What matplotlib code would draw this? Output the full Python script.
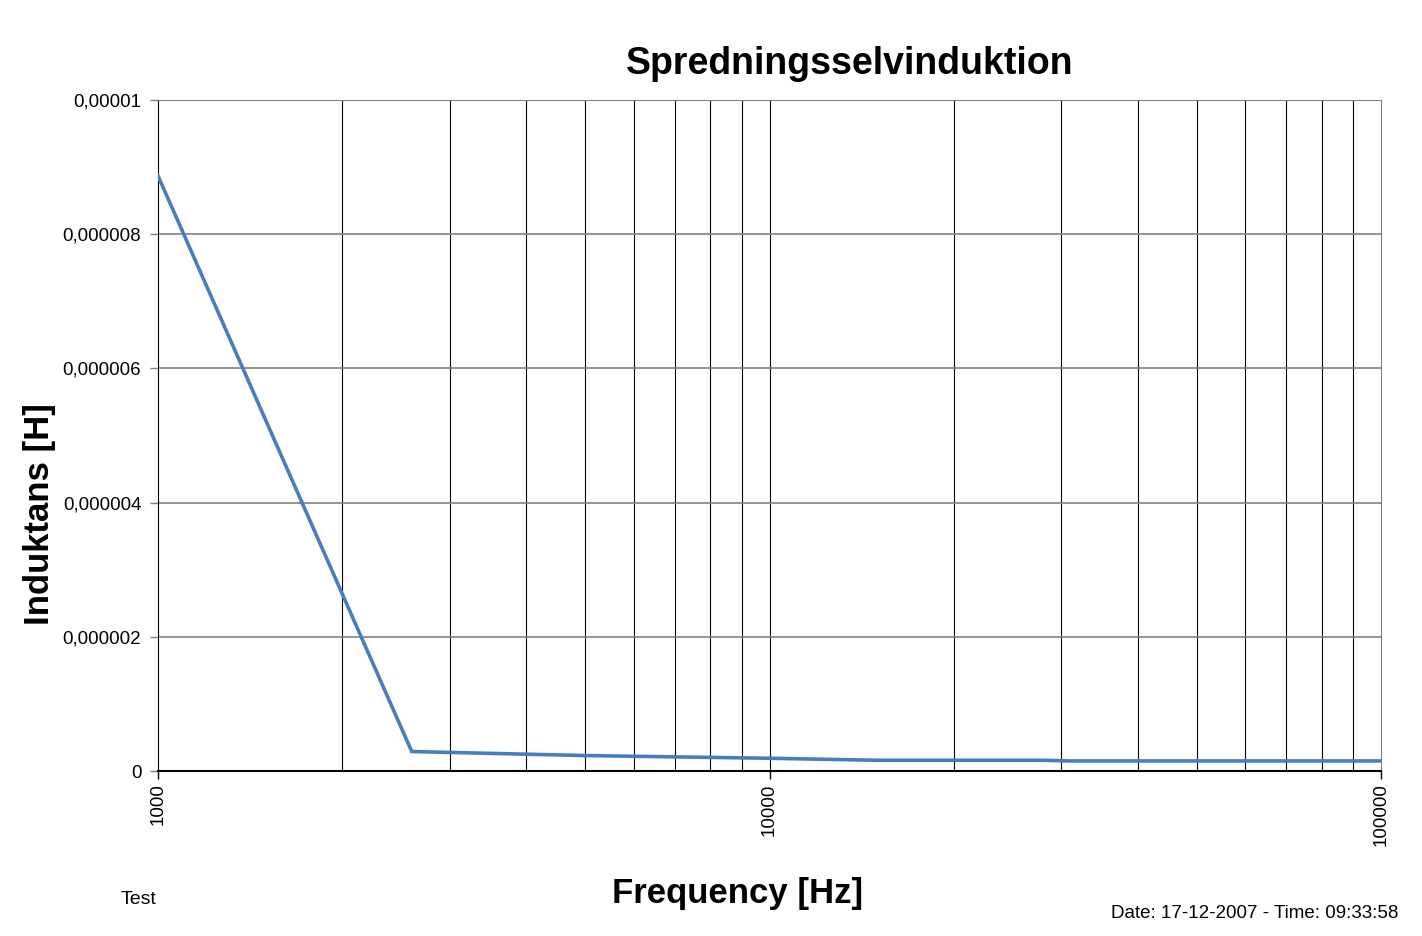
import matplotlib
matplotlib.use('Agg')
import matplotlib.pyplot as plt
from matplotlib.ticker import FixedLocator, FuncFormatter, NullFormatter

plt.rcParams['font.family'] = ['Liberation Sans', 'DejaVu Sans']

# data
freq = [1000, 2600, 5000, 10000, 15000, 28000, 31000, 100000]
induktans = [8.87e-6, 0.29e-6, 0.23e-6, 0.19e-6, 0.16e-6, 0.16e-6, 0.15e-6, 0.15e-6]
y_ticks = [0, 2e-6, 4e-6, 6e-6, 8e-6, 1e-5]
y_labels = ['0', '0,000002', '0,000004', '0,000006', '0,000008', '0,00001']
x_ticks = [1000, 10000, 100000]
minor_x = [m * d for d in (1000, 10000) for m in range(2, 10)]

fig = plt.figure(figsize=(14.22, 9.36), dpi=100)
ax = fig.add_axes([158 / 1422, 1 - 771 / 936, (1381 - 158) / 1422, (771 - 100) / 936])

ax.plot(freq, induktans, color='#4a7ebb', lw=2.6, solid_joinstyle='miter', zorder=3)

ax.set_xscale('log')
ax.set_xlim(1000, 100000)
ax.set_ylim(0, 1e-5)

ax.xaxis.set_major_locator(FixedLocator(x_ticks))
ax.xaxis.set_minor_locator(FixedLocator(minor_x))
ax.xaxis.set_major_formatter(FuncFormatter(lambda v, p: '%d' % v))
ax.xaxis.set_minor_formatter(NullFormatter())
ax.set_yticks(y_ticks)
ax.set_yticklabels(y_labels)

ax.tick_params(axis='x', which='major', labelrotation=90, labelsize=13.5, length=6, width=1, color='black', pad=3)
ax.tick_params(axis='x', which='minor', length=0)
ax.tick_params(axis='y', labelsize=13.5, length=6, width=1, color='#808080', pad=6)

for v in minor_x + [10000]:
    ax.axvline(v, color='black', lw=0.8, zorder=1)
for v in y_ticks[1:]:
    ax.axhline(v, color='#808080', lw=1.2, zorder=1)

ax.spines['left'].set_color('black')
ax.spines['bottom'].set_color('black')
ax.spines['bottom'].set_linewidth(1.5)
ax.spines['right'].set_color('#808080')
ax.spines['top'].set_color('#808080')

fig.text(850 / 1422, 1 - 64 / 936, 'Spredningsselvinduktion', ha='center', va='center',
         fontsize=27, fontweight='bold')
fig.text(40 / 1422, 1 - 514 / 936, 'Induktans [H]', ha='center', va='center', rotation=90,
         fontsize=25, fontweight='bold')
fig.text(738 / 1422, 1 - 894 / 936, 'Frequency [Hz]', ha='center', va='center',
         fontsize=25, fontweight='bold')
fig.text(121 / 1422, 1 - 899 / 936, 'Test', ha='left', va='center', fontsize=14)
fig.text(1398 / 1422, 1 - 913 / 936, 'Date: 17-12-2007 - Time: 09:33:58', ha='right', va='center',
         fontsize=13.5)

fig.savefig('out.png', dpi=100)
